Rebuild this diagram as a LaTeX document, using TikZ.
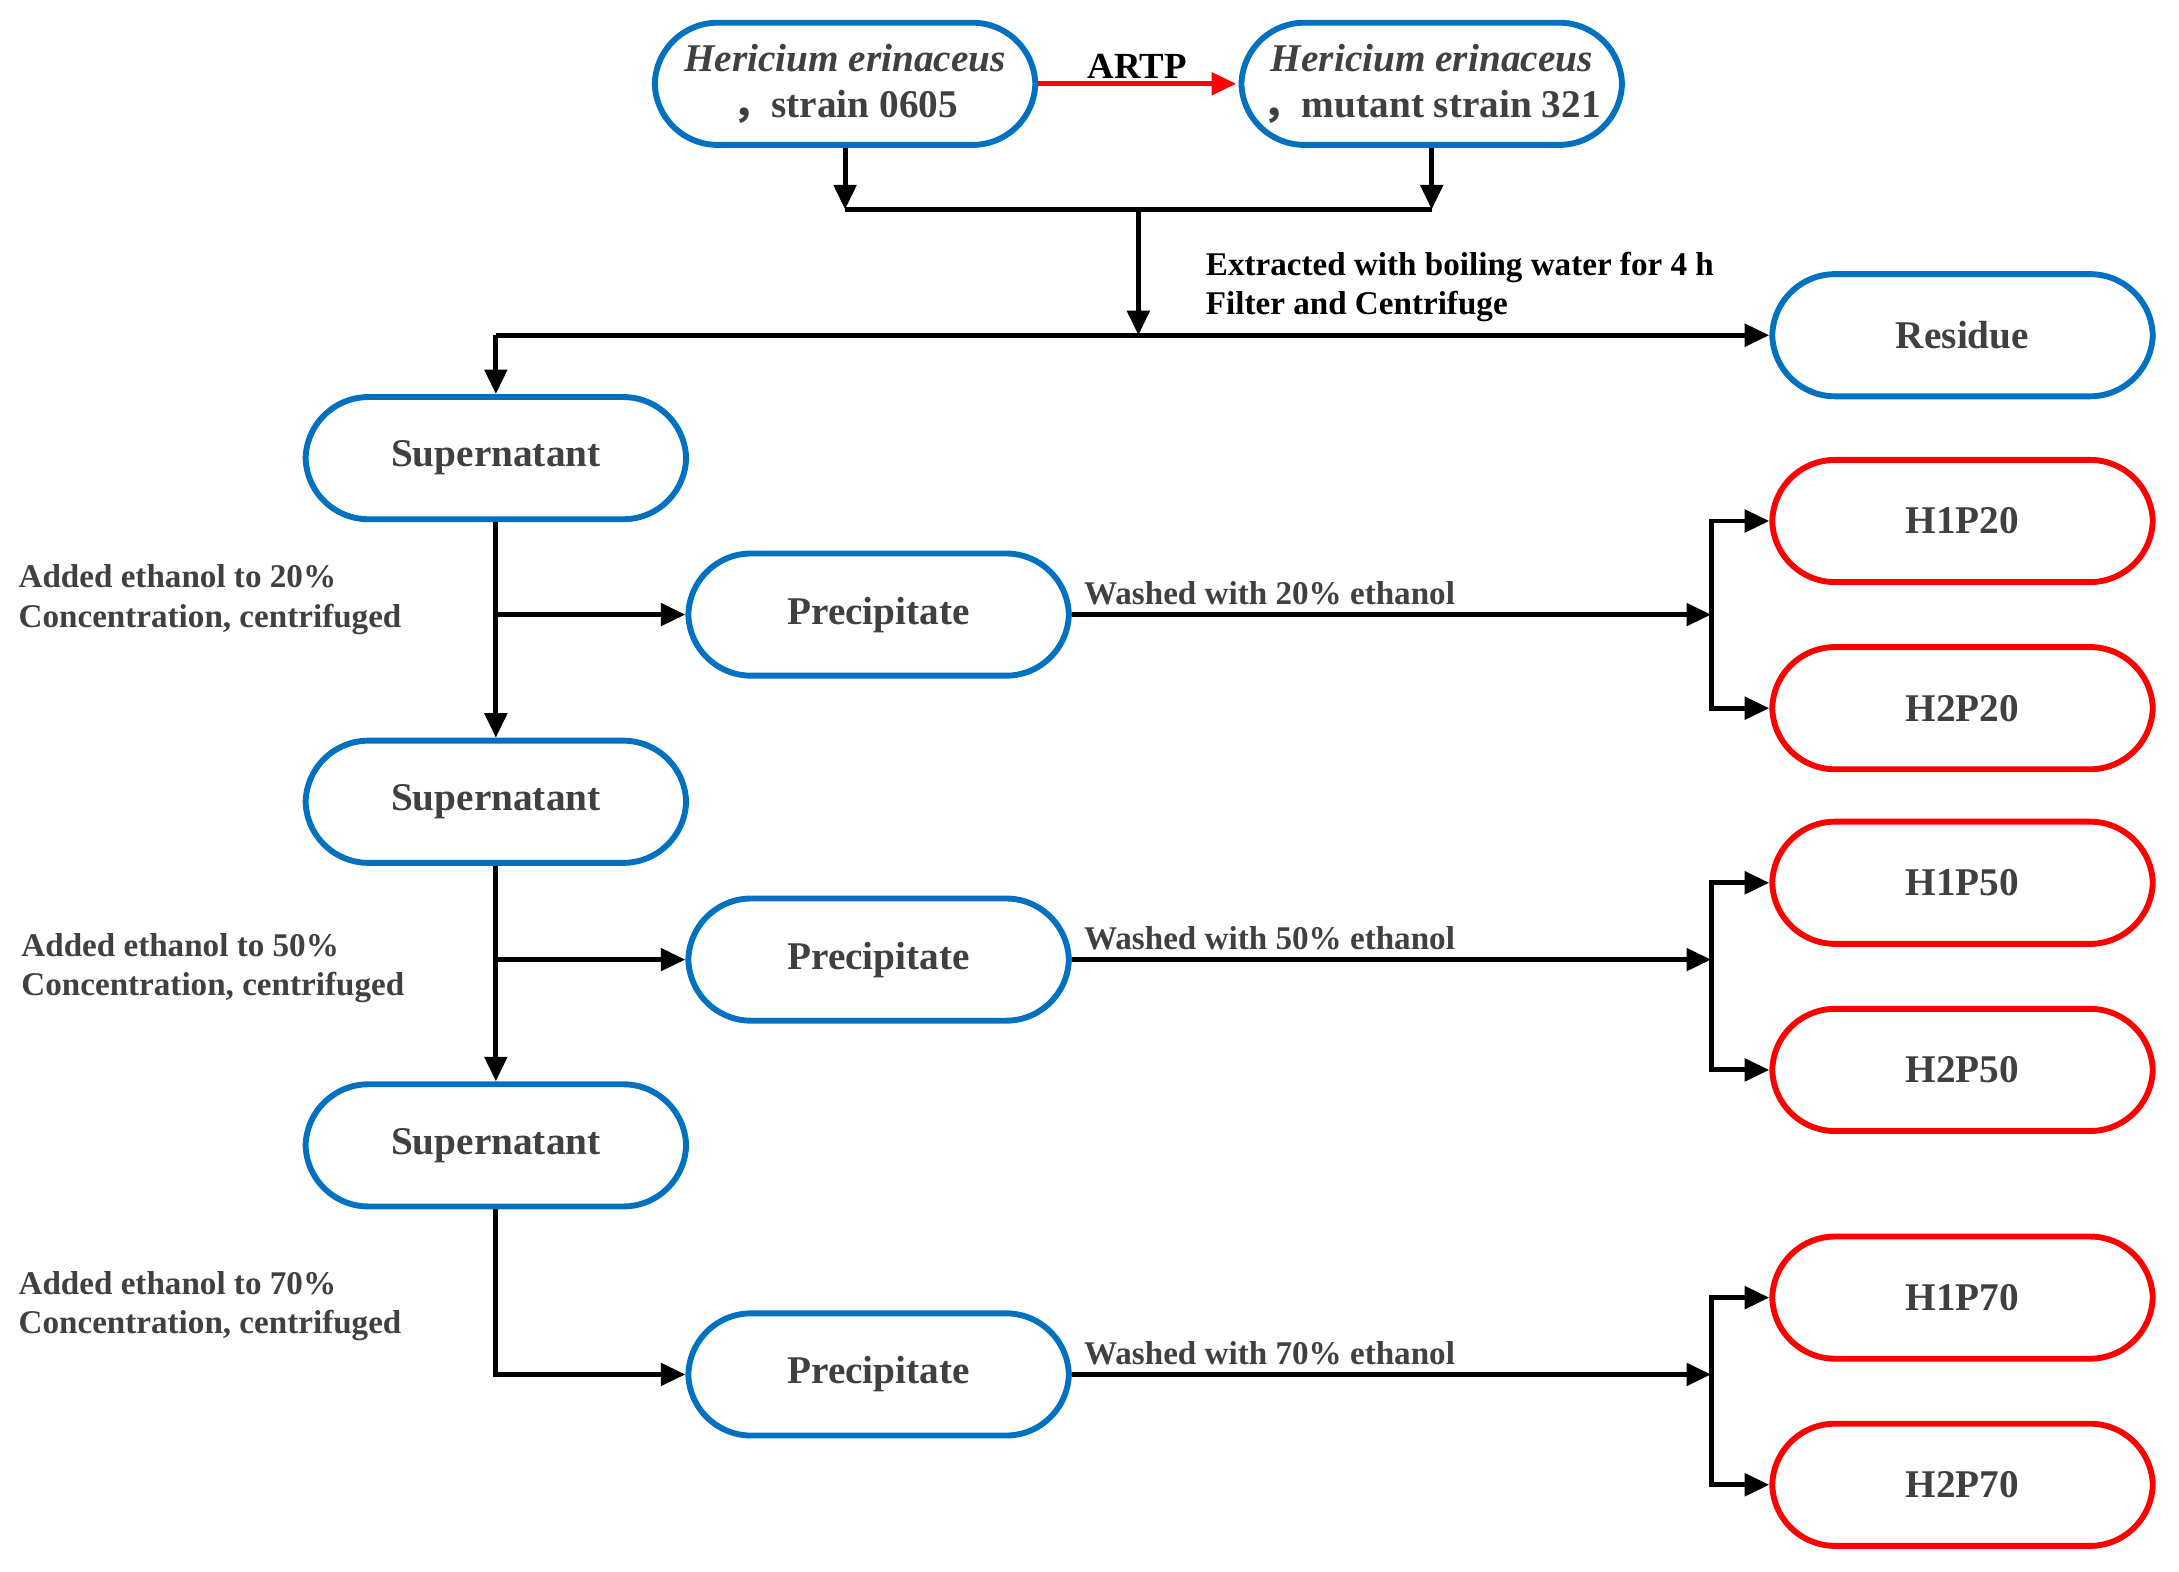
\documentclass[tikz,border=0pt]{standalone}
\usepackage{fontspec}
\setmainfont{Liberation Serif}
\newfontfamily\cjk{Noto Sans CJK SC}
\usetikzlibrary{arrows.meta}
\definecolor{bl}{HTML}{0070C0}
\definecolor{tx}{HTML}{404040}
\begin{document}
\begin{tikzpicture}[x=0.02cm,y=-0.02cm,
 box/.style={draw=bl,line width=2.4pt,rounded corners=0.9cm,minimum width=5.45cm,minimum height=1.75cm,align=center,font=\fontsize{16}{19}\selectfont\bfseries,text=tx},
 rbox/.style={box,draw=red},
 ar/.style={line width=2pt,-{Triangle[length=10pt,width=9pt]}},
 ln/.style={line width=2pt},
 lab/.style={font=\fontsize{13.5}{16}\selectfont\bfseries,text=tx,align=left,inner sep=0pt}]
\useasboundingbox (5,0) rectangle (1565,1125);
\node[box] (A) at (610,60) {\textit{Hericium erinaceus}\\{\cjk ，}strain 0605};
\node[box] (B) at (1030,60) {\textit{Hericium erinaceus}\\{\cjk ，}mutant strain 321};
\draw[ar,red] (A.east) -- node[above,text=black,font=\fontsize{15}{18}\selectfont\bfseries,inner sep=1pt]{ARTP} (B.east-|890,0);
\coordinate (j1) at (610,150); \coordinate (j2) at (1030,150); \coordinate (j3) at (820,150);
\coordinate (j4) at (820,240); \coordinate (j5) at (360,240);
\draw[ar] (A.south) -- (j1);
\draw[ar] (B.south) -- (j2);
\draw[ln] (j1) -- (j2);
\draw[ar] (j3) -- (j4);
\node[box] (R) at (1410,240) {Residue};
\draw[ar] (j5) -- (R.west);
\node[lab,anchor=north west,text=black] at (868,180) {Extracted with boiling water for 4 h\\Filter and Centrifuge};
\node[box] (S1) at (360,328) {Supernatant};
\node[box] (S2) at (360,574) {Supernatant};
\node[box] (S3) at (360,820) {Supernatant};
\draw[ar] (j5) -- (S1.north);
\node[box] (P1) at (634,440) {Precipitate};
\node[box] (P2) at (634,687) {Precipitate};
\node[box] (P3) at (634,984) {Precipitate};
\draw[ar] (S1.south) -- (S2.north);
\draw[ar] (S2.south) -- (S3.north);
\draw[ar] (360,440) -- (P1.west);
\draw[ar] (360,687) -- (P2.west);
\draw[ar] (S3.south) |- (P3.west);
\node[lab,anchor=north west] at (18,404) {Added ethanol to 20\%\\Concentration, centrifuged};
\node[lab,anchor=north west] at (20,668) {Added ethanol to 50\%\\Concentration, centrifuged};
\node[lab,anchor=north west] at (18,910) {Added ethanol to 70\%\\Concentration, centrifuged};
\foreach \p/\y/\a/\b/\n in {P1/440/373/507/20,P2/687/632/766/50,P3/984/929/1063/70}{
 \node[rbox] (H1\n) at (1410,\a) {H1P\n};
 \node[rbox] (H2\n) at (1410,\b) {H2P\n};
 \coordinate (k\n) at (1230,\y);
 \draw[ar] (\p.east) -- node[lab,above,pos=0.0,anchor=south west,yshift=3pt,xshift=4pt]{Washed with \n\% ethanol} (k\n);
 \draw[ar] (k\n) |- (H1\n.west);
 \draw[ar] (k\n) |- (H2\n.west);
}
\end{tikzpicture}
\end{document}
